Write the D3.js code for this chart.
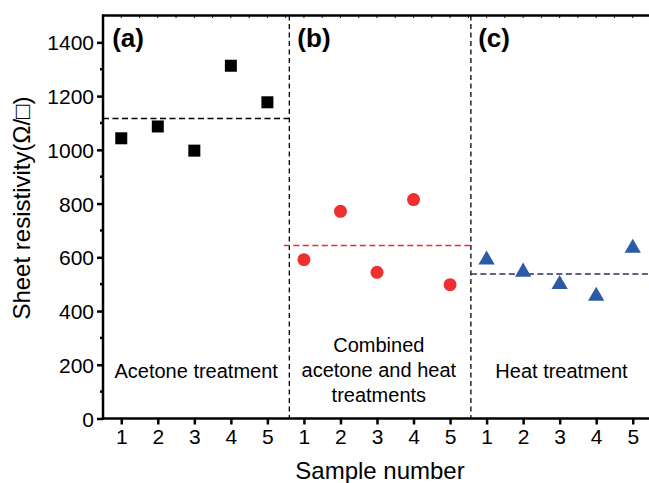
<!DOCTYPE html>
<html>
<head>
<meta charset="utf-8">
<script src="https://cdn.jsdelivr.net/npm/d3@7"></script>
<style>
  body { margin: 0; background: #fff; }
  text { font-family: "Liberation Sans", Arial, sans-serif; }
</style>
</head>
<body>
<svg id="chart" width="649" height="483"></svg>
<script>
// Data
var sampleLabels = [1, 2, 3, 4, 5, 1, 2, 3, 4, 5, 1, 2, 3, 4, 5];
var acetone = [1043, 1087, 997, 1313, 1177];
var combined = [591, 771, 544, 815, 498];
var heat = [596, 551, 505, 461, 640];
var means = [1117, 644, 538];
var yTicks = [0, 200, 400, 600, 800, 1000, 1200, 1400];

var svg = d3.select("#chart");
var plotL = 103, plotR = 651, plotT = 15.5, plotB = 418.5;

var x = d3.scaleLinear().domain([0.5, 15.5]).range([plotL, plotR]);
var y = d3.scaleLinear().domain([0, 1500]).range([plotB, plotT]);

// dividers between the three groups
var div1 = 5.6, div2 = 10.57;
[div1, div2].forEach(function(d) {
  svg.append("line")
    .attr("x1", x(d)).attr("x2", x(d))
    .attr("y1", plotT).attr("y2", plotB)
    .attr("stroke", "#000").attr("stroke-width", 1.3)
    .attr("stroke-dasharray", "5,3.5");
});

// mean lines
var meanLines = [
  { from: 0.5, to: div1, v: means[0], c: "#000" },
  { from: 5.45, to: div2, v: means[1], c: "#ee2b2b" },
  { from: div2, to: 15.5, v: means[2], c: "#2a2f5c" }
];
svg.selectAll(".mean").data(meanLines).enter().append("line")
  .attr("x1", function(d) { return x(d.from); })
  .attr("x2", function(d) { return x(d.to); })
  .attr("y1", function(d) { return y(d.v); })
  .attr("y2", function(d) { return y(d.v); })
  .attr("stroke", function(d) { return d.c; })
  .attr("stroke-width", 1.5)
  .attr("stroke-dasharray", "6,3.5");

// squares
svg.selectAll(".sq").data(acetone).enter().append("rect")
  .attr("x", function(d, i) { return x(i + 1) - 6; })
  .attr("y", function(d) { return y(d) - 6; })
  .attr("width", 12).attr("height", 12)
  .attr("fill", "#000");

// circles
svg.selectAll(".ci").data(combined).enter().append("circle")
  .attr("cx", function(d, i) { return x(i + 6); })
  .attr("cy", function(d) { return y(d); })
  .attr("r", 6.5)
  .attr("fill", "#ee3030");

// triangles
var tri = d3.symbol().type(d3.symbolTriangle).size(115);
svg.selectAll(".tr").data(heat).enter().append("path")
  .attr("d", tri)
  .attr("transform", function(d, i) { return "translate(" + x(i + 11) + "," + (y(d) + 1.5) + ")"; })
  .attr("fill", "#2b5ba6");

// axes
var xAxis = d3.axisBottom(x).tickValues(d3.range(1, 16))
  .tickFormat(function(d) { return sampleLabels[d - 1]; })
  .tickSize(6).tickPadding(5);
var gx = svg.append("g").attr("transform", "translate(0," + plotB + ")").call(xAxis);
gx.select(".domain").remove();
gx.selectAll("line").attr("stroke-width", 2.5);
gx.selectAll("text").attr("font-size", 21).attr("fill", "#000");

var yAxis = d3.axisLeft(y).tickValues(yTicks).tickFormat(d3.format("d"))
  .tickSize(6).tickPadding(3);
var gy = svg.append("g").attr("transform", "translate(" + plotL + ",0)").call(yAxis);
gy.select(".domain").remove();
gy.selectAll("line").attr("stroke-width", 2.5);
gy.selectAll("text").attr("font-size", 21).attr("fill", "#000").attr("dy", "0.36em");

// minor y ticks
svg.selectAll(".my").data(d3.range(100, 1500, 200)).enter().append("line")
  .attr("x1", plotL - 3).attr("x2", plotL)
  .attr("y1", function(d) { return y(d); }).attr("y2", function(d) { return y(d); })
  .attr("stroke", "#000").attr("stroke-width", 2.5);

// top small ticks
svg.selectAll(".tt").data(d3.range(1, 15.6, 0.5)).enter().append("line")
  .attr("x1", function(d) { return x(d); }).attr("x2", function(d) { return x(d); })
  .attr("y1", plotT).attr("y2", plotT + 2.5)
  .attr("stroke", "#000").attr("stroke-width", 1);

// frame lines
svg.append("line").attr("x1", plotL).attr("x2", plotL).attr("y1", plotT - 1.2).attr("y2", plotB + 1.2)
  .attr("stroke", "#000").attr("stroke-width", 2.5);
svg.append("line").attr("x1", plotL).attr("x2", 649).attr("y1", plotB).attr("y2", plotB)
  .attr("stroke", "#000").attr("stroke-width", 2.5);
svg.append("line").attr("x1", plotL).attr("x2", 649).attr("y1", plotT).attr("y2", plotT)
  .attr("stroke", "#000").attr("stroke-width", 2.5);

// panel letters
var panels = [{ t: "(a)", s: 0.75 }, { t: "(b)", s: div1 + 0.22 }, { t: "(c)", s: div2 + 0.2 }];
svg.selectAll(".pl").data(panels).enter().append("text")
  .attr("x", function(d) { return x(d.s); })
  .attr("y", 47)
  .attr("font-size", 26).attr("font-weight", "bold")
  .text(function(d) { return d.t; });

// group captions
var captions = [
  { cx: 3.05, lines: ["Acetone treatment"], y0: 378 },
  { cx: 8.05, lines: ["Combined", "acetone and heat", "treatments"], y0: 352 },
  { cx: 13.05, lines: ["Heat treatment"], y0: 378 }
];
captions.forEach(function(c) {
  c.lines.forEach(function(l, i) {
    svg.append("text")
      .attr("x", x(c.cx)).attr("y", c.y0 + i * 25)
      .attr("text-anchor", "middle").attr("font-size", 20)
      .text(l);
  });
});

// axis titles
svg.append("text").attr("x", 380).attr("y", 479)
  .attr("text-anchor", "middle").attr("font-size", 24)
  .text("Sample number");
svg.append("text")
  .attr("transform", "translate(30,208) rotate(-90)")
  .attr("text-anchor", "middle").attr("font-size", 24)
  .text("Sheet resistivity(Ω/□)");
</script>
</body>
</html>
